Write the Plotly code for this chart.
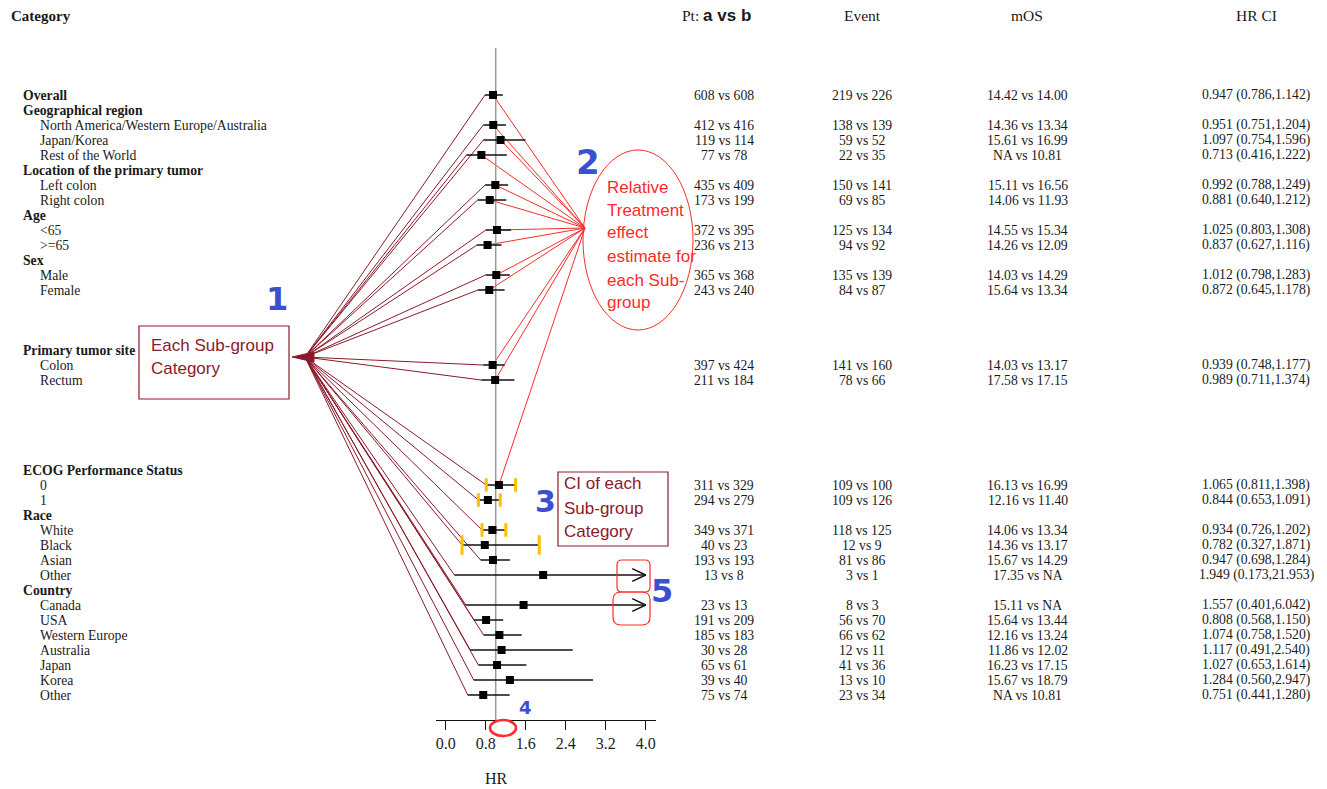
import plotly.graph_objects as go

# ---------------- data ----------------
N = None
categories = ["Overall", "Geographical region", "North America/Western Europe/Australia", "Japan/Korea",
              "Rest of the World", "Location of the primary tumor", "Left colon", "Right colon", "Age",
              "<65", ">=65", "Sex", "Male", "Female", "", "", "", "Primary tumor site", "Colon", "Rectum",
              "", "", "", "", "", "ECOG Performance Status", "0", "1", "Race", "White", "Black", "Asian",
              "Other", "Country", "Canada", "USA", "Western Europe", "Australia", "Japan", "Korea", "Other"]
headers = ["Overall", "Geographical region", "Location of the primary tumor", "Age", "Sex",
           "Primary tumor site", "ECOG Performance Status", "Race", "Country"]

pt = ["608 vs 608", N, "412 vs 416", "119 vs 114", "77 vs 78", N, "435 vs 409", "173 vs 199", N,
      "372 vs 395", "236 vs 213", N, "365 vs 368", "243 vs 240", N, N, N, N, "397 vs 424", "211 vs 184",
      N, N, N, N, N, N, "311 vs 329", "294 vs 279", N, "349 vs 371", "40 vs 23", "193 vs 193", "13 vs 8",
      N, "23 vs 13", "191 vs 209", "185 vs 183", "30 vs 28", "65 vs 61", "39 vs 40", "75 vs 74"]
events = ["219 vs 226", N, "138 vs 139", "59 vs 52", "22 vs 35", N, "150 vs 141", "69 vs 85", N,
          "125 vs 134", "94 vs 92", N, "135 vs 139", "84 vs 87", N, N, N, N, "141 vs 160", "78 vs 66",
          N, N, N, N, N, N, "109 vs 100", "109 vs 126", N, "118 vs 125", "12 vs 9", "81 vs 86", "3 vs 1",
          N, "8 vs 3", "56 vs 70", "66 vs 62", "12 vs 11", "41 vs 36", "13 vs 10", "23 vs 34"]
mos = ["14.42 vs 14.00", N, "14.36 vs 13.34", "15.61 vs 16.99", "NA vs 10.81", N, "15.11 vs 16.56",
       "14.06 vs 11.93", N, "14.55 vs 15.34", "14.26 vs 12.09", N, "14.03 vs 14.29", "15.64 vs 13.34",
       N, N, N, N, "14.03 vs 13.17", "17.58 vs 17.15", N, N, N, N, N, N, "16.13 vs 16.99",
       "12.16 vs 11.40", N, "14.06 vs 13.34", "14.36 vs 13.17", "15.67 vs 14.29", "17.35 vs NA", N,
       "15.11 vs NA", "15.64 vs 13.44", "12.16 vs 13.24", "11.86 vs 12.02", "16.23 vs 17.15",
       "15.67 vs 18.79", "NA vs 10.81"]
hr = [0.947, N, 0.951, 1.097, 0.713, N, 0.992, 0.881, N, 1.025, 0.837, N, 1.012, 0.872, N, N, N, N,
      0.939, 0.989, N, N, N, N, N, N, 1.065, 0.844, N, 0.934, 0.782, 0.947, 1.949, N, 1.557, 0.808,
      1.074, 1.117, 1.027, 1.284, 0.751]
hr_low = [0.786, N, 0.751, 0.754, 0.416, N, 0.788, 0.640, N, 0.803, 0.627, N, 0.798, 0.645, N, N, N, N,
          0.748, 0.711, N, N, N, N, N, N, 0.811, 0.653, N, 0.726, 0.327, 0.698, 0.173, N, 0.401, 0.568,
          0.758, 0.491, 0.653, 0.560, 0.441]
hr_high = [1.142, N, 1.204, 1.596, 1.222, N, 1.249, 1.212, N, 1.308, 1.116, N, 1.283, 1.178, N, N, N, N,
           1.177, 1.374, N, N, N, N, N, N, 1.398, 1.091, N, 1.202, 1.871, 1.284, 21.953, N, 6.042, 1.150,
           1.520, 2.540, 1.614, 2.947, 1.280]
tickvals = [0.0, 0.8, 1.6, 2.4, 3.2, 4.0]
ticktext = ["0.0", "0.8", "1.6", "2.4", "3.2", "4.0"]
x_max = 4.0
highlight_ci = ["0", "1", "White", "Black"]        # CI ends marked in yellow
effect_rows_last = "0"                             # red arrows go to estimates up to ECOG "0"

# ---------------- geometry ----------------
W, H = 1327, 789
X0, PXU = 445.7, 50.0
Y0, PXR = 95.0, 15.0
def px2x(p): return (p - X0) / PXU
def py2r(p): return (p - Y0) / PXR
def pxp(p): return p / W
def pyp(p): return 1 - p / H

SERIF = "Liberation Serif, Times New Roman, serif"
SANS = "Liberation Sans, Arial, sans-serif"
DARK = "#8B1A2A"
RED = "#FF2A2A"
BLUE = "#3B4FD0"
YEL = "#FFC000"
TXT = "#1a1a1a"
FS = 13.7

rows = [i for i, v in enumerate(hr) if v is not None]

fig = go.Figure()

# annotation lines (full-width helper axis, same HR scale)
ax_r, ay_r = px2x(585), py2r(228)
last = categories.index(effect_rows_last)
lx, ly = [], []
for i in rows:
    if i <= last:
        lx += [ax_r, hr[i], None]
        ly += [ay_r, i, None]
fig.add_trace(go.Scatter(x=lx, y=ly, mode="lines", line=dict(color=RED, width=1),
                         hoverinfo="skip", showlegend=False, xaxis="x", yaxis="y"))
ax_d, ay_d = px2x(305), py2r(357)
dx, dy = [], []
for i in rows:
    dx += [ax_d, max(hr_low[i], 0), None]
    dy += [ay_d, i, None]
fig.add_trace(go.Scatter(x=dx, y=dy, mode="lines", line=dict(color=DARK, width=1),
                         hoverinfo="skip", showlegend=False, xaxis="x", yaxis="y"))

# forest: CI lines
cx, cy = [], []
for i in rows:
    cx += [hr_low[i], min(hr_high[i], x_max), None]
    cy += [i, i, None]
fig.add_trace(go.Scatter(x=cx, y=cy, mode="lines", line=dict(color="#111", width=1.4),
                         hoverinfo="skip", showlegend=False, xaxis="x2", yaxis="y"))
# truncated arrows
tx, ty = [], []
for i in rows:
    if hr_high[i] > x_max:
        tx += [x_max - 0.27, x_max, x_max - 0.27, None]
        ty += [i - 0.43, i, i + 0.43, None]
fig.add_trace(go.Scatter(x=tx, y=ty, mode="lines", line=dict(color="#111", width=1.4),
                         hoverinfo="skip", showlegend=False, xaxis="x2", yaxis="y"))
# yellow CI-end marks
yx, yy = [], []
for i in rows:
    if categories[i] in highlight_ci and i > 20:
        h = 0.65 if categories[i] == "Black" else 0.45
        for v in (hr_low[i], hr_high[i]):
            yx += [v, v, None]
            yy += [i - h, i + h, None]
fig.add_trace(go.Scatter(x=yx, y=yy, mode="lines", line=dict(color=YEL, width=3),
                         hoverinfo="skip", showlegend=False, xaxis="x2", yaxis="y"))
# point estimates
fig.add_trace(go.Scatter(x=[hr[i] for i in rows], y=rows, mode="markers",
                         marker=dict(symbol="square", size=8, color="#000"),
                         showlegend=False, xaxis="x2", yaxis="y"))

ann = []
def text(x, y, s, size=FS, color=TXT, font=SERIF, xanchor="left", yref="paper"):
    ann.append(dict(x=pxp(x), y=(pyp(y) if yref == "paper" else y), xref="paper", yref=yref,
                    text=s, showarrow=False, xanchor=xanchor, yanchor="middle",
                    font=dict(family=font, size=size, color=color)))

# header row
text(8.5, 16, "<b>Category</b>", 15)
text(716, 16, "Pt: <b><span style='font-family:Liberation Sans,Arial;font-size:17px'>a vs b</span></b>",
     15.5, xanchor="center")
text(862, 16, "Event", 15.5, xanchor="center")
text(1027, 16, "mOS", 15.5, xanchor="center")
text(1256, 16, "HR CI", 15.5, xanchor="center")

# category labels and table
for i, c in enumerate(categories):
    if not c:
        continue
    if c in headers:
        text(21, 0, "<b>%s</b>" % c, yref="y")
    else:
        text(37.5, 0, c, yref="y")
    ann[-1]["y"] = i
    if hr[i] is not None:
        for xc, s in ((724, pt[i]), (862, events[i]), (1027.5, mos[i]),
                      (1256, "%.3f (%.3f,%.3f)" % (hr[i], hr_low[i], hr_high[i]))):
            text(xc, 0, s, xanchor="center", yref="y")
            ann[-1]["y"] = i

# axis title
text(496, 778, "HR", 16, xanchor="center")

# callout texts
for y, s in ((345, "Each Sub-group"), (368, "Category")):
    text(149, y, s, 17, DARK, SANS)
for y, s in ((187, "Relative"), (210, "Treatment"), (232, "effect"), (256, "estimate for"),
             (280, "each Sub-"), (302, "group")):
    text(605, y, s, 17, RED, SANS)
for y, s in ((484, "CI of each"), (508, "Sub-group"), (531, "Category")):
    text(562, y, s, 17, DARK, SANS)
# blue hand numbers
for x, y, s, sz in ((277, 299, "1", 32), (588, 162, "2", 34), (545, 501, "3", 30),
                    (525, 707, "4", 18), (662, 591, "5", 32)):
    text(x, y, "<b>%s</b>" % s, sz, BLUE, "DejaVu Sans", xanchor="center")

def rr(x0, y0, x1, y1, r):
    P = lambda x, y: "%.5f %.5f" % (pxp(x), pyp(y))
    return ("M " + P(x0 + r, y0) + " L " + P(x1 - r, y0) + " Q " + P(x1, y0) + " " + P(x1, y0 + r) +
            " L " + P(x1, y1 - r) + " Q " + P(x1, y1) + " " + P(x1 - r, y1) +
            " L " + P(x0 + r, y1) + " Q " + P(x0, y1) + " " + P(x0, y1 - r) +
            " L " + P(x0, y0 + r) + " Q " + P(x0, y0) + " " + P(x0 + r, y0) + " Z")

shapes = [
    dict(type="line", xref="x2", yref="y", x0=1, x1=1, y0=py2r(48), y1=py2r(720),
         line=dict(color="#9a9a9a", width=1.5), layer="below"),
    dict(type="rect", xref="paper", yref="paper", x0=pxp(139), x1=pxp(289), y0=pyp(399), y1=pyp(326),
         line=dict(color=DARK, width=1.2)),
    dict(type="rect", xref="paper", yref="paper", x0=pxp(558), x1=pxp(668), y0=pyp(546), y1=pyp(472),
         line=dict(color=DARK, width=1.2)),
    dict(type="circle", xref="paper", yref="paper", x0=pxp(583), x1=pxp(693), y0=pyp(330), y1=pyp(150),
         line=dict(color=RED, width=1)),
    dict(type="circle", xref="paper", yref="paper", x0=pxp(490), x1=pxp(516), y0=pyp(736), y1=pyp(720),
         line=dict(color=RED, width=2.5)),
    dict(type="path", xref="paper", yref="paper", path=rr(617, 560, 650, 592, 5),
         line=dict(color=RED, width=1.2)),
    dict(type="path", xref="paper", yref="paper", path=rr(613, 592, 650, 625, 8),
         line=dict(color=RED, width=1.2)),
    dict(type="path", xref="paper", yref="paper",
         path="M %.5f %.5f L %.5f %.5f L %.5f %.5f Z" % (pxp(292), pyp(357), pxp(314), pyp(352),
                                                         pxp(314), pyp(362)),
         fillcolor=DARK, line=dict(color=DARK, width=1)),
]

fig.update_layout(
    width=W, height=H, margin=dict(l=0, r=0, t=0, b=0),
    paper_bgcolor="white", plot_bgcolor="rgba(0,0,0,0)",
    xaxis=dict(domain=[0, 1], range=[px2x(0), px2x(W)], visible=False, fixedrange=True),
    xaxis2=dict(domain=[pxp(X0 - 0.2 * PXU), pxp(X0 + 4.2 * PXU)], range=[-0.2, 4.2],
                anchor="free", position=pyp(720), tickvals=tickvals, ticktext=ticktext,
                ticks="outside", ticklen=9, tickwidth=1.3, tickcolor="#111",
                showline=True, linecolor="#111", linewidth=1.3, showgrid=False, zeroline=False,
                tickfont=dict(family=SERIF, size=16, color="#222"), fixedrange=True),
    yaxis=dict(domain=[0, 1], range=[py2r(H), py2r(0)], visible=False, fixedrange=True),
    annotations=ann, shapes=shapes, showlegend=False,
)

fig.write_html("out.html", config={"displayModeBar": False},
               post_script="document.body.style.margin='0';")
